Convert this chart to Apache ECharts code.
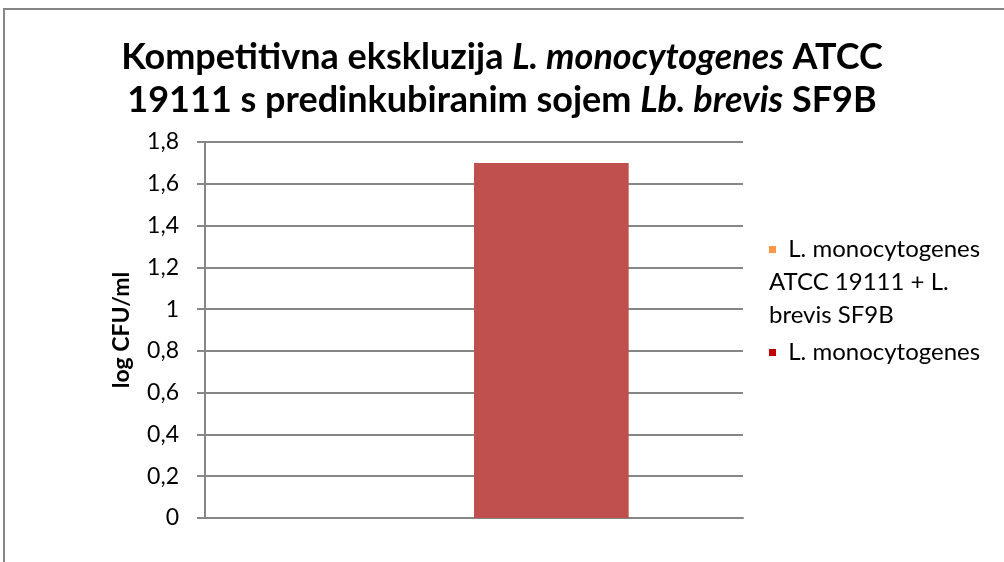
<!DOCTYPE html>
<html>
<head>
<meta charset="utf-8">
<script src="https://cdn.jsdelivr.net/npm/echarts@6/dist/echarts.min.js"></script>
<style>
  html, body { margin: 0; padding: 0; background: #fff; }
  #main { width: 1004px; height: 562px; }
</style>
</head>
<body>
<div id="main"></div>
<script>
var categories = [''];
var seriesNames = ['L. monocytogenes ATCC 19111 + L. brevis SF9B', 'L. monocytogenes'];
var legendLines = [['L. monocytogenes', 'ATCC 19111 + L.', 'brevis SF9B'], ['L. monocytogenes']];
var seriesValues = [[0], [1.7]];
var barColors = ['#F79646', '#C0504D'];
var legendColors = ['#F79646', '#C00000'];
var yMin = 0, yMax = 1.8, yStep = 0.2;

var myChart = echarts.init(document.getElementById('main'));

var font = 'Lato, "Open Sans", sans-serif';
var gray = '#868686';

var series = seriesNames.map(function (name, i) {
    return {
        name: name,
        type: 'bar',
        data: seriesValues[i],
        barGap: '0%',
        barCategoryGap: '42.5%',
        itemStyle: { color: barColors[i] }
    };
});

var option = {
    animation: false,
    textStyle: { fontFamily: font },
    graphic: [{
        type: 'rect',
        shape: { x: 4, y: 9, width: 1200, height: 800 },
        style: { fill: 'none', stroke: gray, lineWidth: 2 }
    }],
    title: {
        left: 'center',
        top: 31,
        text: '{b|Kompetitivna ekskluzija }{i|L. monocytogenes}{b| ATCC}\n{b|19111 s predinkubiranim sojem }{i|Lb. brevis}{b| SF9B}',
        textStyle: {
            rich: {
                b: { fontFamily: font, fontSize: 36, fontWeight: 'bold', color: '#000', lineHeight: 43 },
                i: { fontFamily: font, fontSize: 36, fontWeight: 'bold', fontStyle: 'italic', color: '#000', lineHeight: 43 }
            }
        }
    },
    legend: {
        orient: 'vertical',
        left: 759,
        top: 228,
        itemWidth: 0,
        itemHeight: 0,
        itemGap: 4,
        selectedMode: false,
        data: seriesNames,
        formatter: function (name) {
            var k = seriesNames.indexOf(name);
            var lines = legendLines[k];
            return '{m' + k + '| }  ' + lines.join('\n');
        },
        textStyle: {
            fontFamily: font,
            fontSize: 24,
            lineHeight: 33,
            color: '#000',
            rich: {
                m0: { width: 7, height: 7, backgroundColor: legendColors[0], fontSize: 24, lineHeight: 33 },
                m1: { width: 7, height: 7, backgroundColor: legendColors[1], fontSize: 24, lineHeight: 33 }
            }
        }
    },
    grid: { left: 205, right: 261, top: 142, bottom: 44 },
    xAxis: {
        type: 'category',
        data: categories,
        axisLine: { lineStyle: { color: gray, width: 2 } },
        axisTick: { show: false },
        axisLabel: { show: false }
    },
    yAxis: {
        type: 'value',
        min: yMin,
        max: yMax,
        interval: yStep,
        name: 'log CFU/ml',
        nameLocation: 'middle',
        nameRotate: 90,
        nameGap: 72,
        nameTextStyle: { fontFamily: font, fontSize: 23, fontWeight: 'bold', color: '#000' },
        axisLine: { show: true, lineStyle: { color: gray, width: 2 } },
        axisTick: { show: true, length: 8, lineStyle: { color: gray, width: 2 } },
        axisLabel: {
            fontFamily: font,
            fontSize: 23,
            color: '#000',
            margin: 26,
            formatter: function (v) { return String(Math.round(v * 10) / 10).replace('.', ','); }
        },
        splitLine: { lineStyle: { color: gray, width: 2 } }
    },
    series: series
};

myChart.setOption(option);
</script>
</body>
</html>
